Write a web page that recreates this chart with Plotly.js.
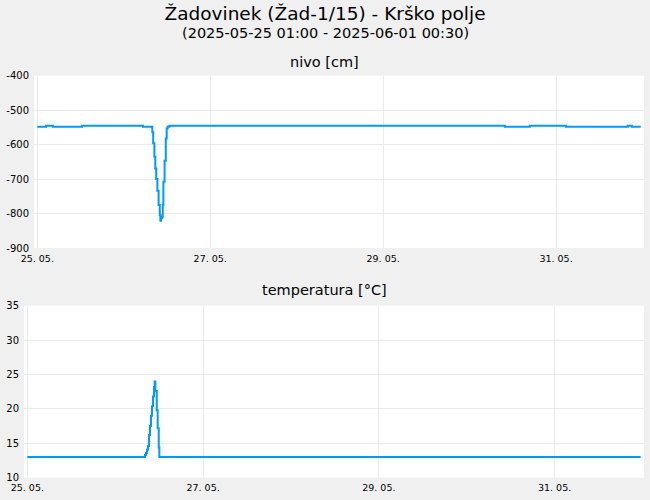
<!DOCTYPE html>
<html>
<head>
<meta charset="utf-8">
<script src="https://cdn.plot.ly/plotly-3.0.1.min.js"></script>
<style>
  html, body { margin: 0; padding: 0; background: #f0f0f0; }
  #chart { width: 650px; height: 500px; }
</style>
</head>
<body>
<div id="chart"></div>
<script>
// ---- data ----
const nivoTime = [
  '2025-05-25 01:00', '2025-05-25 03:25', '2025-05-25 05:18', '2025-05-25 13:24',
  '2025-05-26 06:20', '2025-05-26 08:55', '2025-05-26 09:10', '2025-05-26 09:30',
  '2025-05-26 09:45', '2025-05-26 10:00', '2025-05-26 10:20', '2025-05-26 10:40',
  '2025-05-26 11:00', '2025-05-26 11:10', '2025-05-26 11:20', '2025-05-26 11:35',
  '2025-05-26 11:50', '2025-05-26 12:00', '2025-05-26 12:20', '2025-05-26 12:40',
  '2025-05-26 12:55', '2025-05-26 13:10', '2025-05-26 13:40', '2025-05-30 10:47',
  '2025-05-30 17:43', '2025-05-31 03:43', '2025-05-31 20:55', '2025-05-31 22:02',
  '2025-06-01 00:30'
];
const nivoValue = [
  -548, -545, -548, -545,
  -548, -564, -596, -635,
  -669, -700, -734, -775,
  -804, -821, -814, -809,
  -775, -708, -647, -582,
  -553, -548, -545, -548,
  -545, -548, -545, -548,
  -548
];

const tempTime = [
  '2025-05-25 01:00', '2025-05-26 09:08', '2025-05-26 09:24', '2025-05-26 09:41',
  '2025-05-26 09:57', '2025-05-26 10:14', '2025-05-26 10:30', '2025-05-26 10:46',
  '2025-05-26 11:03', '2025-05-26 11:19', '2025-05-26 11:35', '2025-05-26 11:46',
  '2025-05-26 11:57', '2025-05-26 12:20', '2025-05-26 12:36', '2025-05-26 12:53',
  '2025-05-26 13:03', '2025-06-01 00:30'
];
const tempValue = [
  13.0, 13.3, 13.6, 14.1,
  14.6, 16.2, 17.5, 19.0,
  20.4, 21.8, 23.2, 24.0,
  22.6, 19.8, 17.2, 14.4,
  13.0, 13.0
];

const nivoTicks = [-900, -800, -700, -600, -500, -400];
const tempTicks = [10, 15, 20, 25, 30, 35];

const titleText = 'Žadovinek (Žad-1/15) - Krško polje';
const subtitleText = '(2025-05-25 01:00 - 2025-06-01 00:30)';
const nivoTitle = 'nivo [cm]';
const tempTitle = 'temperatura [°C]';

// ---- chart ----
const FONT = 'DejaVu Sans, Verdana, sans-serif';
const LINE = '#0099ff';
const GRID = '#ebebeb';
const xRange = ['2025-05-25 00:05', '2025-06-01 01:25'];

const traces = [
  {
    x: nivoTime, y: nivoValue, xaxis: 'x', yaxis: 'y',
    type: 'scatter', mode: 'lines', line: { color: LINE, width: 2, shape: 'hv' },
    hoverinfo: 'x+y'
  },
  {
    x: tempTime, y: tempValue, xaxis: 'x2', yaxis: 'y2',
    type: 'scatter', mode: 'lines', line: { color: LINE, width: 2, shape: 'hv' },
    hoverinfo: 'x+y'
  }
];

const xCommon = {
  type: 'date', range: xRange, tick0: '2025-05-25 01:00', dtick: 172800000,
  tickformat: '%d. %m.', showgrid: true, gridcolor: GRID, zeroline: false,
  showline: false, ticks: '', tickfont: { family: FONT, size: 9.5, color: '#000' },
  ticklabelstandoff: 3, fixedrange: true
};
const yCommon = {
  showgrid: true, gridcolor: GRID, zeroline: false, showline: false, ticks: '',
  tickfont: { family: FONT, size: 10, color: '#000' }, ticklabelstandoff: 4,
  fixedrange: true
};

const layout = {
  width: 650, height: 500,
  paper_bgcolor: '#f0f0f0', plot_bgcolor: '#ffffff',
  margin: { l: 0, r: 0, t: 0, b: 0 },
  showlegend: false,
  title: {
    text: titleText, font: { family: FONT, size: 18.5, color: '#000' },
    x: 0.5, xanchor: 'center', xref: 'paper', y: 1 - 14 / 500, yref: 'container', yanchor: 'middle'
  },
  xaxis: Object.assign({}, xCommon, { domain: [34 / 650, 644 / 650], anchor: 'y' }),
  yaxis: Object.assign({}, yCommon, {
    domain: [1 - 248 / 500, 1 - 75.7 / 500], anchor: 'x',
    range: [-900, -400], tickvals: nivoTicks, ticktext: nivoTicks.map(String)
  }),
  xaxis2: Object.assign({}, xCommon, { domain: [24 / 650, 644 / 650], anchor: 'y2' }),
  yaxis2: Object.assign({}, yCommon, {
    domain: [1 - 477.7 / 500, 1 - 305.7 / 500], anchor: 'x2',
    range: [10, 35], tickvals: tempTicks, ticktext: tempTicks.map(String)
  }),
  annotations: [
    { text: subtitleText, xref: 'paper', yref: 'paper', x: 0.5, y: 1 - 33.5 / 500,
      xanchor: 'center', yanchor: 'middle', showarrow: false,
      font: { family: FONT, size: 14.5, color: '#000', weight: 'normal' } },
    { text: nivoTitle, xref: 'paper', yref: 'paper', x: 324 / 650, y: 1 - 61.5 / 500,
      xanchor: 'center', yanchor: 'middle', showarrow: false,
      font: { family: FONT, size: 14.5, color: '#000' } },
    { text: tempTitle, xref: 'paper', yref: 'paper', x: 324 / 650, y: 1 - 290 / 500,
      xanchor: 'center', yanchor: 'middle', showarrow: false,
      font: { family: FONT, size: 14.5, color: '#000' } }
  ]
};

Plotly.newPlot('chart', traces, layout, { displayModeBar: false, staticPlot: true });
</script>
</body>
</html>
